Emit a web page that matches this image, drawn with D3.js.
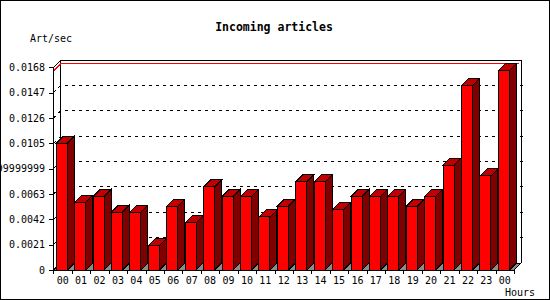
<!DOCTYPE html>
<html>
<head>
<meta charset="utf-8">
<script src="https://cdn.jsdelivr.net/npm/d3@7"></script>
<style>
	body { margin: 0; background: white; }
	svg { display: block; }
	text { font-family: "DejaVu Sans Mono", monospace; fill: black; }
	line, path, rect { shape-rendering: crispEdges; }
</style>
</head>
<body>
<svg id="chart" width="550" height="300"></svg>
<script>
const hours = ["00", "01", "02", "03", "04", "05", "06", "07", "08", "09", "10", "11",
	"12", "13", "14", "15", "16", "17", "18", "19", "20", "21", "22", "23", "00"];
const artPerSec = [0.0105, 0.0056, 0.0061, 0.0048, 0.0048, 0.0020, 0.0053, 0.0039,
	0.0069, 0.0061, 0.0061, 0.0044, 0.0053, 0.0073, 0.0073, 0.0050, 0.0061, 0.0061,
	0.0061, 0.0053, 0.0061, 0.0087, 0.0153, 0.0078, 0.0165];
const yTicks = [0, 0.0021, 0.0042, 0.0063, 0.0084, 0.0105, 0.0126, 0.0147, 0.0168];
const yTickLabels = ["0", "0.0021", "0.0042", "0.0063", "0.0083999999999999",
	"0.0105", "0.0126", "0.0147", "0.0168"];

const WIDTH = 550;
const HEIGHT = 300;
const DEPTH = 7;
const LEFT = 53.5;
const RIGHT = 514;
const BOTTOM = 270;
const TOP = 67.3;

const svg = d3.select("#chart");

const x = d3.scaleBand()
	.domain(d3.range(hours.length))
	.range([LEFT, RIGHT]);

const y = d3.scaleLinear()
	.domain([0, 0.0168])
	.range([BOTTOM, TOP]);

const barOffset = 2.8;
const barWidth = 11;

// outer frame
svg.append("rect")
	.attr("x", 0.5)
	.attr("y", 0.5)
	.attr("width", WIDTH - 1)
	.attr("height", HEIGHT - 1.5)
	.attr("fill", "white")
	.attr("stroke", "black");

// title and axis labels
svg.append("text")
	.attr("x", 274)
	.attr("y", 31)
	.attr("text-anchor", "middle")
	.attr("font-size", 11.5)
	.attr("font-weight", "bold")
	.text("Incoming articles");

svg.append("text")
	.attr("x", 30)
	.attr("y", 41.5)
	.attr("font-size", 10)
	.text("Art/sec");

svg.append("text")
	.attr("x", 505)
	.attr("y", 295.5)
	.attr("font-size", 10)
	.text("Hours");

// back wall
const backL = LEFT + DEPTH;
const backR = RIGHT + DEPTH;
const backT = TOP - DEPTH;
const backB = BOTTOM - DEPTH;

svg.append("path")
	.attr("d", `M${backL},${backB}V${backT}H${backR}V${backB}`)
	.attr("fill", "none")
	.attr("stroke", "black");

// grid lines on back wall and side wall
const grid = svg.append("g")
	.attr("stroke", "black")
	.attr("stroke-dasharray", "3,4")
	.attr("fill", "none");

yTicks.slice(1, -1).forEach(t => {
	grid.append("path")
		.attr("d", `M${LEFT},${y(t)}L${backL},${y(t) - DEPTH}H${backR + 2.5}`);
});

// top diagonal edge
svg.append("line")
	.attr("x1", LEFT)
	.attr("y1", TOP)
	.attr("x2", backL)
	.attr("y2", backT)
	.attr("stroke", "black");

// max value line
const maxVal = d3.max(artPerSec);
svg.append("path")
	.attr("d", `M${LEFT},${y(maxVal)}L${backL},${y(maxVal) - DEPTH}H${backR - 2}`)
	.attr("fill", "none")
	.attr("stroke", "#ff0000");

// floor
svg.append("path")
	.attr("d", `M${LEFT},${BOTTOM}H${RIGHT}L${backR},${backB}H${backL}Z`)
	.attr("fill", "#8c8c8c")
	.attr("stroke", "black");

// y axis
svg.append("line")
	.attr("x1", LEFT)
	.attr("y1", TOP)
	.attr("x2", LEFT)
	.attr("y2", BOTTOM)
	.attr("stroke", "black");

const yAxis = svg.append("g");
yTicks.forEach((t, i) => {
	yAxis.append("line")
		.attr("x1", LEFT - 5)
		.attr("x2", LEFT)
		.attr("y1", Math.round(y(t)) + 0.5)
		.attr("y2", Math.round(y(t)) + 0.5)
		.attr("stroke", "black");
	yAxis.append("text")
		.attr("x", 45)
		.attr("y", y(t) + 3.8)
		.attr("text-anchor", "end")
		.attr("font-size", 10)
		.text(yTickLabels[i]);
});

// x axis
svg.append("line")
	.attr("x1", LEFT - 4)
	.attr("x2", RIGHT)
	.attr("y1", BOTTOM)
	.attr("y2", BOTTOM)
	.attr("stroke", "black");

const xAxis = svg.append("g");
hours.forEach((h, i) => {
	const xs = x(i);
	xAxis.append("line")
		.attr("x1", Math.round(xs) + 0.5)
		.attr("x2", Math.round(xs) + 0.5)
		.attr("y1", BOTTOM)
		.attr("y2", BOTTOM + 4)
		.attr("stroke", "black");
	xAxis.append("text")
		.attr("x", xs + x.bandwidth() / 2)
		.attr("y", 284)
		.attr("text-anchor", "middle")
		.attr("font-size", 10)
		.text(h);
});
xAxis.append("line")
	.attr("x1", RIGHT)
	.attr("x2", RIGHT)
	.attr("y1", BOTTOM)
	.attr("y2", BOTTOM + 4)
	.attr("stroke", "black");

// 3d bars
const bars = svg.append("g")
	.attr("stroke", "black")
	.attr("stroke-linejoin", "miter");

artPerSec.forEach((v, i) => {
	const x0 = x(i) + barOffset;
	const x1 = x0 + barWidth;
	const yt = y(v);
	const g = bars.append("g");
	// side
	g.append("path")
		.attr("d", `M${x1},${BOTTOM}V${yt}L${x1 + DEPTH},${yt - DEPTH}V${backB}Z`)
		.attr("fill", "#800000");
	// top
	g.append("path")
		.attr("d", `M${x0},${yt}L${x0 + DEPTH},${yt - DEPTH}H${x1 + DEPTH}L${x1},${yt}Z`)
		.attr("fill", "#c00000");
	// front
	g.append("rect")
		.attr("x", x0)
		.attr("y", yt)
		.attr("width", barWidth)
		.attr("height", BOTTOM - yt)
		.attr("fill", "#ff0000");
});
</script>
</body>
</html>
